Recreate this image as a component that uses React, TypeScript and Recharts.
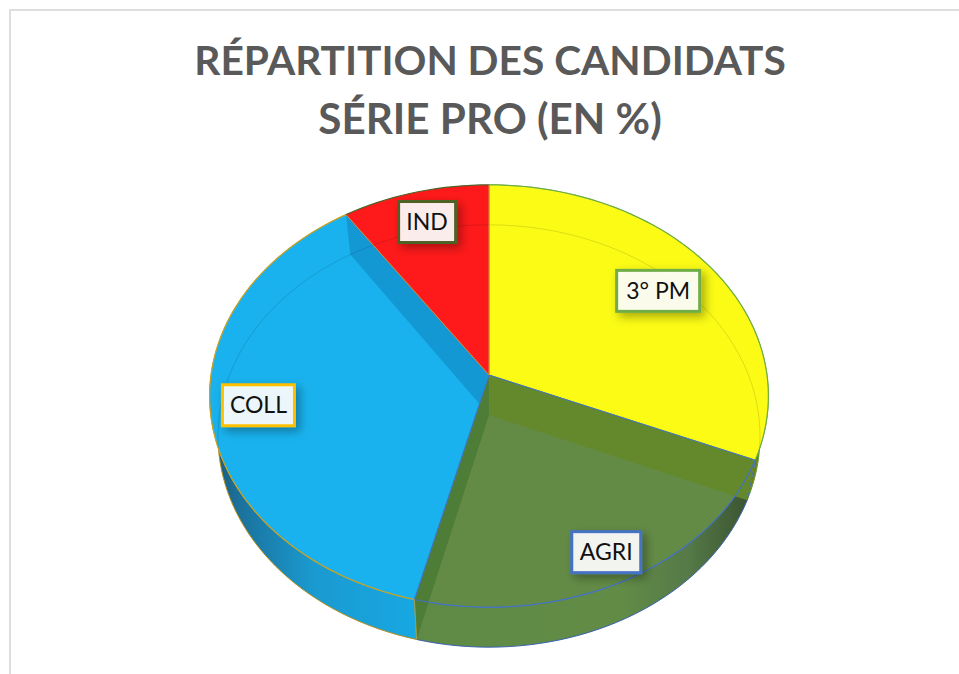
import React from 'react';
import { PieChart, Pie } from 'recharts';

const categories = ['3° PM', 'AGRI', 'COLL', 'IND'];
const shares = [31.4, 22.5, 36.7, 9.4];

const topColors = ['#fbfb16', '#638b46', '#19b2ee', '#fe1a1a'];
const startWalls = ['none', '#64892c', '#1498d4', 'none'];
const endWalls = ['none', '#4e7d37', '#1498d4', 'none'];
const hasOuterWall = [true, true, true, false];
const rimBorders = ['#70ad47', '#4472c4', '#c9a227', '#4f6228'];
const radialBorders = ['#70ad47', '#4472c4', '#4472c4', '#c9963a'];
const labelBorders = ['#70ad47', '#4472c4', '#ffc000', '#4f6228'];
const labelRadius = [0.76, 0.873, 0.83, 0.825];
const labelWidths = [83, 69, 72, 57];

const WIDTH = 959;
const HEIGHT = 674;
const DEPTH = 40;
const PERSPECTIVE = 0.0995;
const SQUASH = 0.752;
const BOTTOM_SCALE = 0.97;

const rad = (deg: number) => (deg * Math.PI) / 180;

// tilted disc: top level, or bottom level of the cylinder
const project = (cx: number, cy: number, R: number, deg: number, r: number, bottom = false) => {
  const u = Math.cos(rad(deg)) * r;
  const v = Math.sin(rad(deg)) * r;
  const w = 1 + PERSPECTIVE * v;
  const sx = bottom ? R * BOTTOM_SCALE : R;
  return {
    x: cx + (sx * u) / w,
    y: cy + (bottom ? DEPTH : 0) - (R * SQUASH * v) / w,
  };
};

const arc = (cx: number, cy: number, R: number, a0: number, a1: number, bottom = false) => {
  const steps = Math.max(2, Math.ceil(Math.abs(a1 - a0) / 2));
  const pts = [];
  for (let i = 0; i <= steps; i++) {
    const p = project(cx, cy, R, a0 + ((a1 - a0) * i) / steps, 1, bottom);
    pts.push(`${p.x.toFixed(2)} ${p.y.toFixed(2)}`);
  }
  return pts;
};

const sidePath = (cx: number, cy: number, R: number, deg: number) => {
  const t = project(cx, cy, R, deg, 1);
  const b = project(cx, cy, R, deg, 1, true);
  const ba = project(cx, cy, R, deg, 0, true);
  return `M${cx} ${cy} L${t.x} ${t.y} L${b.x} ${b.y} L${ba.x} ${ba.y} Z`;
};

const SliceShape = (props: any) => {
  const { cx, cy, outerRadius: R, startAngle, endAngle, index } = props;
  const top = arc(cx, cy, R, startAngle, endAngle);
  const low = arc(cx, cy, R, startAngle, endAngle, true);
  const topPath = `M${cx} ${cy} L${top.join(' L')} Z`;
  const wallPath = `M${top.join(' L')} L${[...low].reverse().join(' L')} Z`;
  const clipId = `slice-clip-${index}`;
  return (
    <g>
      <defs>
        <clipPath id={clipId}>
          <path d={topPath} />
          <path d={wallPath} />
        </clipPath>
      </defs>
      {hasOuterWall[index] && (
        <path d={wallPath} fill={`url(#wall-${index})`} stroke={rimBorders[index]} strokeWidth={1} />
      )}
      <path d={topPath} fill={topColors[index]} />
      <g clipPath={`url(#${clipId})`}>
        <path d={sidePath(cx, cy, R, startAngle)} fill={startWalls[index]} />
        <path d={sidePath(cx, cy, R, endAngle)} fill={endWalls[index]} />
      </g>
      <path d={`M${low.join(' L')}`} fill="none" stroke="#000" strokeOpacity={0.12} strokeWidth={1} />
      <path d={`M${top.join(' L')}`} fill="none" stroke={rimBorders[index]} strokeWidth={1.2} />
      <path
        d={`M${top[0]} L${cx} ${cy} L${top[top.length - 1]}`}
        fill="none"
        stroke={radialBorders[index]}
        strokeWidth={1}
      />
    </g>
  );
};

const renderLabel = (props: any) => {
  const { cx, cy, outerRadius: R, midAngle, index } = props;
  const p = project(cx, cy, R, midAngle, labelRadius[index]);
  const w = labelWidths[index];
  const h = 41;
  return (
    <g key={categories[index]}>
      <rect
        x={p.x - w / 2}
        y={p.y - h / 2}
        width={w}
        height={h}
        fill="#fff"
        fillOpacity={0.9}
        stroke={labelBorders[index]}
        strokeWidth={3}
        filter="url(#label-shadow)"
      />
      <text
        x={p.x}
        y={p.y + 8}
        textAnchor="middle"
        fontFamily="Lato, sans-serif"
        fontSize={23}
        fill="#111"
      >
        {categories[index]}
      </text>
    </g>
  );
};

const data = categories.map((name, i) => ({ name, value: shares[i] }));

export default function App() {
  return (
    <div style={{ position: 'absolute', left: 0, top: 0, width: WIDTH, height: HEIGHT, background: '#fff', overflow: 'hidden' }}>
      <div
        style={{
          position: 'absolute',
          left: 9,
          top: 9,
          width: WIDTH,
          height: HEIGHT,
          borderLeft: '2px solid #dedede',
          borderTop: '2px solid #dedede',
        }}
      />
      <div
        style={{
          position: 'absolute',
          left: 0,
          top: 31,
          width: 980,
          textAlign: 'center',
          fontFamily: 'Lato, sans-serif',
          fontWeight: 700,
          lineHeight: '58px',
          color: '#595959',
          whiteSpace: 'nowrap',
        }}
      >
        <div style={{ fontSize: 40.7 }}>RÉPARTITION DES CANDIDATS</div>
        <div style={{ fontSize: 42.2 }}>SÉRIE PRO (EN %)</div>
      </div>
      <div style={{ position: 'absolute', left: 0, top: 0 }}>
        <PieChart width={WIDTH} height={HEIGHT} margin={{ top: 0, right: 0, bottom: 0, left: 0 }}>
          <defs>
            <linearGradient id="wall-0" x1="0" y1="0" x2="1" y2="0">
              <stop offset="0" stopColor="#7f8c12" />
              <stop offset="1" stopColor="#6f7f14" />
            </linearGradient>
            <linearGradient id="wall-1" x1="0" y1="0" x2="1" y2="0">
              <stop offset="0" stopColor="#5f8a45" />
              <stop offset="0.6" stopColor="#628c46" />
              <stop offset="0.8" stopColor="#567a48" />
              <stop offset="1" stopColor="#37502e" />
            </linearGradient>
            <linearGradient id="wall-2" x1="0" y1="0" x2="1" y2="0">
              <stop offset="0" stopColor="#1a5675" />
              <stop offset="0.14" stopColor="#1b719b" />
              <stop offset="0.5" stopColor="#1a9ad0" />
              <stop offset="1" stopColor="#17a8e2" />
            </linearGradient>
            <filter id="label-shadow" x="-30%" y="-40%" width="170%" height="190%">
              <feDropShadow dx={4} dy={4} stdDeviation={5} floodColor="#000" floodOpacity={0.35} />
            </filter>
          </defs>
          <Pie
            data={data}
            dataKey="value"
            nameKey="name"
            cx={489}
            cy={375}
            outerRadius={278}
            startAngle={90}
            endAngle={-270}
            stroke="none"
            shape={SliceShape}
            label={renderLabel}
            labelLine={false}
            isAnimationActive={false}
          />
        </PieChart>
      </div>
    </div>
  );
}
